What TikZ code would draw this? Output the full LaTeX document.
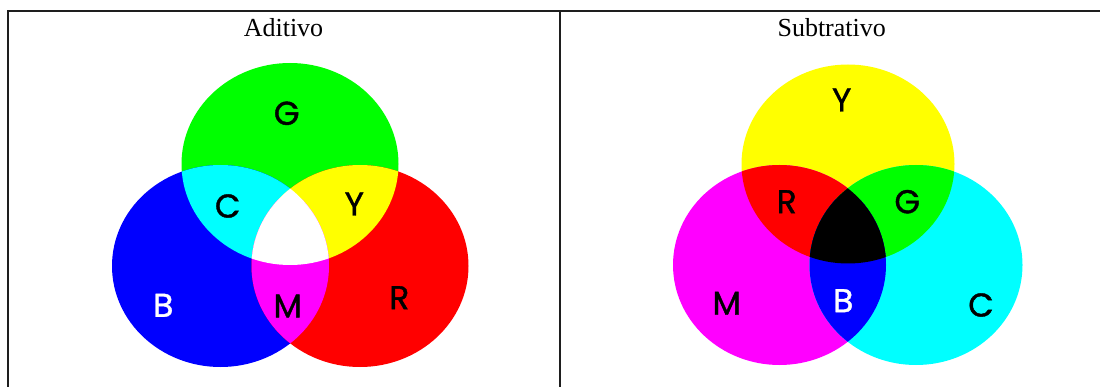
\documentclass[tikz,border=0pt]{standalone}
\usepackage{fontspec}
\setmainfont{Liberation Serif}
\newfontfamily\lettfont[FakeBold=1.2]{Poppins}
\definecolor{pG}{RGB}{0,255,0}
\definecolor{pB}{RGB}{0,0,255}
\definecolor{pR}{RGB}{255,0,0}
\definecolor{pC}{RGB}{0,255,255}
\definecolor{pY}{RGB}{255,255,0}
\definecolor{pM}{RGB}{255,0,255}
\definecolor{frame}{RGB}{30,30,30}
\tikzset{
  rule/.style={line width=2pt, draw=frame},
  title/.style={font=\fontsize{26}{30}\selectfont, anchor=base, inner sep=0pt},
  lett/.style={font=\lettfont\fontsize{33}{36}\selectfont, inner sep=0pt},
}
\begin{document}
\begin{tikzpicture}[x=1pt,y=-1pt]
\useasboundingbox (0,0) rectangle (1100,387);
\fill[white] (0,0) rectangle (1100,387);
% --- additive ---
\coordinate (cg) at (290,164);
\coordinate (cb) at (220.5,266);
\coordinate (cr) at (360,266);
\fill[pG] (cg) ellipse [x radius=108.5pt, y radius=101pt];
\fill[pB] (cb) ellipse [x radius=108.5pt, y radius=101pt];
\fill[pR] (cr) ellipse [x radius=108.5pt, y radius=101pt];
\begin{scope}
  \clip (cg) ellipse [x radius=108.5pt, y radius=101pt];
  \fill[pC] (cb) ellipse [x radius=108.5pt, y radius=101pt];
  \fill[pY] (cr) ellipse [x radius=108.5pt, y radius=101pt];
  \clip (cb) ellipse [x radius=108.5pt, y radius=101pt];
  \fill[white] (cr) ellipse [x radius=108.5pt, y radius=101pt];
\end{scope}
\begin{scope}
  \clip (cb) ellipse [x radius=108.5pt, y radius=101pt];
  \clip (cr) ellipse [x radius=108.5pt, y radius=101pt];
  \clip (0,200) rectangle (1100,387);
  \fill[pM] (0,0) rectangle (1100,387);
  \fill[white] (cg) ellipse [x radius=108.5pt, y radius=101pt];
\end{scope}
\node[lett] (aG) at (286.7,113.3) {G};
\node[lett] (aC) at (227.7,206) {C};
\node[lett] (aY) at (354.3,204) {Y};
\node[lett, text=white] (aB) at (163.3,305.3) {B};
\node[lett] (aM) at (287.7,306) {M};
\node[lett] (aR) at (399.3,297.7) {R};
% --- subtractive ---
\coordinate (sy) at (848,164);
\coordinate (sm) at (779.5,265);
\coordinate (sc) at (916,265);
\fill[pY] (sy) ellipse [x radius=106.5pt, y radius=99.5pt];
\fill[pM] (sm) ellipse [x radius=106.5pt, y radius=100pt];
\fill[pC] (sc) ellipse [x radius=106.5pt, y radius=100pt];
\begin{scope}
  \clip (sy) ellipse [x radius=106.5pt, y radius=99.5pt];
  \fill[pR] (sm) ellipse [x radius=106.5pt, y radius=100pt];
  \fill[pG] (sc) ellipse [x radius=106.5pt, y radius=100pt];
  \clip (sm) ellipse [x radius=106.5pt, y radius=100pt];
  \fill[black] (sc) ellipse [x radius=106.5pt, y radius=100pt];
\end{scope}
\begin{scope}
  \clip (sm) ellipse [x radius=106.5pt, y radius=100pt];
  \clip (sc) ellipse [x radius=106.5pt, y radius=100pt];
  \clip (0,200) rectangle (1100,387);
  \fill[pB] (0,0) rectangle (1100,387);
  \fill[black] (sy) ellipse [x radius=106.5pt, y radius=99.5pt];
\end{scope}
\node[lett] (sY) at (841.7,100) {Y};
\node[lett] (sR) at (786.7,201.7) {R};
\node[lett] (sG) at (907.3,201.7) {G};
\node[lett] (sM) at (726.7,303.3) {M};
\node[lett, text=white] (sB) at (843.3,300.7) {B};
\node[lett] (sC) at (981,305) {C};
% --- frame and titles ---
\draw[rule] (8.3,387) -- (8.3,11.3) -- (1100,11.3);
\draw[rule] (559.7,11.3) -- (559.7,387);
\node[title] (tA) at (283.5,36.7) {Aditivo};
\node[title] (tS) at (831.7,36.7) {Subtrativo};
\end{tikzpicture}
\end{document}
